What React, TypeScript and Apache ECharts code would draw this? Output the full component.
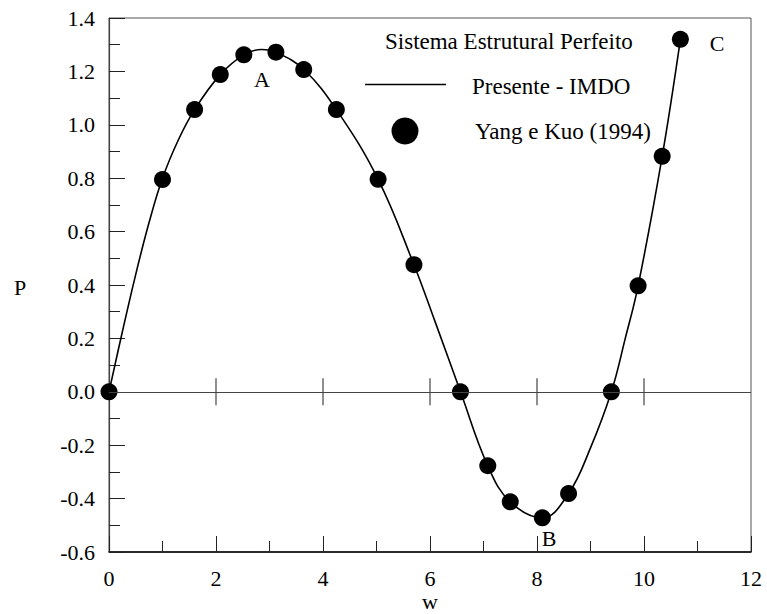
import React, { useEffect, useRef } from "react";
import * as echarts from "echarts";

// Yang e Kuo (1994) points
const yangW = [0, 1.0, 1.6, 2.08, 2.52, 3.12, 3.64, 4.25, 5.03, 5.7, 6.57, 7.08, 7.5, 8.1, 8.59, 9.39, 9.89, 10.34, 10.68];
const yangP = [0, 0.795, 1.057, 1.188, 1.262, 1.272, 1.207, 1.057, 0.796, 0.476, 0, -0.277, -0.412, -0.472, -0.381, 0, 0.397, 0.882, 1.32];

// Presente - IMDO curve
const curveW = [0, 0.25, 0.5, 0.75, 1.0, 1.3, 1.6, 2.08, 2.52, 2.85, 3.12, 3.64, 4.25, 5.03, 5.7, 6.1, 6.57, 7.08, 7.5, 8.1, 8.59, 9.0, 9.39, 9.65, 9.89, 10.34, 10.68];
const curveP = [0, 0.225, 0.44, 0.635, 0.8, 0.945, 1.057, 1.188, 1.262, 1.282, 1.272, 1.207, 1.057, 0.796, 0.476, 0.26, 0, -0.277, -0.412, -0.472, -0.381, -0.21, 0, 0.2, 0.397, 0.882, 1.32];

// zero-line tick positions
const zeroTicks = [2, 4, 6, 8, 10];

const xTicks = { min: 0, max: 12, interval: 2 };
const yTicks = { min: -0.6, max: 1.4, interval: 0.2 };

const FONT = "Liberation Serif";

export default function App() {
  const ref = useRef<HTMLDivElement>(null);
  useEffect(() => {
    if (!ref.current) return;
    const chart = echarts.init(ref.current, null, { renderer: "svg" });
    const txt = (text: string, x: number, y: number, size = 22, align = "center") => ({
      type: "text",
      x,
      y,
      z: 100,
      style: {
        text,
        fill: "#000",
        fontSize: size,
        fontFamily: FONT,
        textAlign: align,
        textVerticalAlign: "middle",
      },
    });
    const rich = { t: { fontFamily: FONT, fontSize: 22, color: "#000" } };
    chart.setOption({
      animation: false,
      backgroundColor: "#fff",
      textStyle: { fontFamily: FONT },
      grid: {
        left: 109,
        right: 16,
        top: 18,
        bottom: 62,
        show: true,
        borderColor: "#555",
        borderWidth: 1,
      },
      xAxis: {
        type: "value",
        min: xTicks.min,
        max: xTicks.max,
        interval: xTicks.interval,
        axisLine: { onZero: false, lineStyle: { color: "#000", width: 1.5 } },
        axisTick: { inside: true, length: 16, lineStyle: { color: "#222", width: 1 } },
        minorTick: { show: true, splitNumber: 2, length: 11, lineStyle: { color: "#222", width: 1 } },
        axisLabel: {
          color: "#000",
          fontSize: 22,
          fontFamily: FONT,
          margin: 15,
          formatter: (v: number) => `{t|${v}}`,
          rich,
        },
        splitLine: { show: false },
      },
      yAxis: {
        type: "value",
        min: yTicks.min,
        max: yTicks.max,
        interval: yTicks.interval,
        axisLine: { show: true, onZero: false, lineStyle: { color: "#444", width: 1.2 } },
        axisTick: { show: true, inside: true, length: 16, lineStyle: { color: "#222", width: 1 } },
        minorTick: { show: true, splitNumber: 2, length: 11, lineStyle: { color: "#222", width: 1 } },
        axisLabel: {
          color: "#000",
          fontSize: 22,
          fontFamily: FONT,
          margin: 14,
          formatter: (v: number) => `{t|${v.toFixed(1)}}`,
          rich,
        },
        splitLine: { show: false },
      },
      series: [
        {
          type: "scatter",
          data: zeroTicks.map((w) => [w, 0]),
          symbol: "rect",
          symbolSize: [1.2, 27],
          itemStyle: { color: "#444", opacity: 1 },
          z: 1,
          silent: true,
          markLine: {
            silent: true,
            symbol: "none",
            label: { show: false },
            lineStyle: { color: "#444", width: 1.2, type: "solid" },
            data: [{ yAxis: 0 }],
          },
        },
        {
          name: "Presente - IMDO",
          type: "line",
          data: curveW.map((w, i) => [w, curveP[i]]),
          smooth: 0.4,
          showSymbol: false,
          lineStyle: { color: "#000", width: 1.6 },
          z: 3,
        },
        {
          name: "Yang e Kuo (1994)",
          type: "scatter",
          data: yangW.map((w, i) => [w, yangP[i]]),
          symbol: "circle",
          symbolSize: 17,
          itemStyle: { color: "#000", opacity: 1 },
          z: 4,
        },
      ],
      graphic: [
        txt("P", 20, 287),
        txt("w", 430, 601),
        txt("Sistema Estrutural Perfeito", 385, 41, 23, "left"),
        {
          type: "line",
          shape: { x1: 365, y1: 84.5, x2: 446, y2: 84.5 },
          style: { stroke: "#000", lineWidth: 1.5 },
          z: 100,
        },
        txt("Presente - IMDO", 472, 86, 23, "left"),
        {
          type: "circle",
          shape: { cx: 405, cy: 131, r: 13.5 },
          style: { fill: "#000" },
          z: 100,
        },
        txt("Yang e Kuo (1994)", 475, 131, 23, "left"),
        txt("A", 262, 79),
        txt("B", 549, 538),
        txt("C", 717, 43),
      ],
    });
    return () => chart.dispose();
  }, []);
  return (
    <div
      ref={ref}
      style={{ position: "fixed", left: 0, top: 0, width: 767, height: 614 }}
    />
  );
}
